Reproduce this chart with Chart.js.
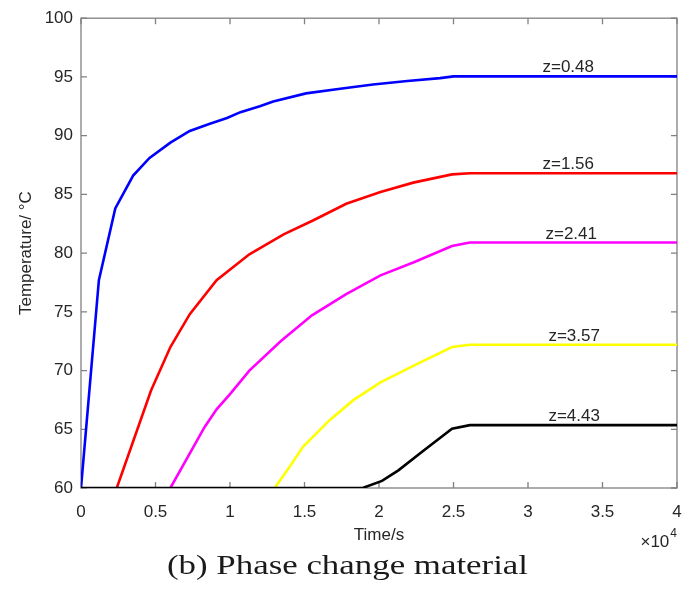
<!DOCTYPE html>
<html>
<head>
<meta charset="utf-8">
<script src="https://cdn.jsdelivr.net/npm/chart.js@4"></script>
<style>
  html, body { margin: 0; padding: 0; background: #fff; }
  #wrap { width: 691px; height: 592px; }
</style>
</head>
<body>
<div id="wrap"><canvas id="tempChart" width="691" height="592"></canvas></div>
<script>
// time in seconds, temperature in degC, one pair of arrays per depth
const timeZ048 = [0, 1200, 2300, 3500, 4600, 6000, 7300, 8600, 9800, 10700, 12000, 12900, 15100, 17400, 19600, 21900, 24100, 25000, 26000, 40000];
const tempZ048 = [60, 77.7, 83.8, 86.6, 88.1, 89.4, 90.4, 91.0, 91.5, 92.0, 92.5, 92.9, 93.6, 94.0, 94.35, 94.65, 94.9, 95.05, 95.05, 95.05];

const timeZ156 = [2400, 4700, 6000, 7300, 9100, 11300, 13600, 15600, 17800, 20100, 22300, 24900, 26100, 40000];
const tempZ156 = [60, 68.3, 72.0, 74.8, 77.7, 79.9, 81.6, 82.8, 84.2, 85.2, 86.0, 86.7, 86.8, 86.8];

const timeZ241 = [6000, 8300, 9100, 10000, 11300, 13400, 15500, 17800, 20100, 22300, 24900, 26100, 40000];
const tempZ241 = [60, 65.2, 66.7, 68.0, 70.0, 72.5, 74.7, 76.5, 78.1, 79.2, 80.6, 80.9, 80.9];

const timeZ357 = [13000, 14000, 14900, 16700, 18300, 20100, 22300, 24900, 26100, 40000];
const tempZ357 = [60, 61.8, 63.5, 65.8, 67.5, 69.0, 70.4, 72.0, 72.2, 72.2];

const timeZ443 = [0, 18900, 20200, 21300, 23000, 24900, 26100, 40000];
const tempZ443 = [60, 60, 60.6, 61.5, 63.2, 65.05, 65.35, 65.35];

const depthLabels = ["z=0.48", "z=1.56", "z=2.41", "z=3.57", "z=4.43"];
const labelTimes = [32700, 32700, 32900, 33100, 33100];
const lineColors = ["#0000ff", "#ff0000", "#ff00ff", "#ffff00", "#000000"];

const xTickStep = 5000;
const yTickStep = 5;

const series = [
  [timeZ048, tempZ048],
  [timeZ156, tempZ156],
  [timeZ241, tempZ241],
  [timeZ357, tempZ357],
  [timeZ443, tempZ443]
];

const axisFont = { family: "'Liberation Sans', Arial, sans-serif", size: 17 };
const inkColor = "#262626";
const boxColor = "#808080";

// frame and inward tick marks on all four sides
const boxPlugin = {
  id: "boxPlugin",
  beforeDatasetsDraw(chart) {
    const { ctx, chartArea: a, scales } = chart;
    const len = 6;
    ctx.save();
    ctx.strokeStyle = boxColor;
    ctx.lineWidth = 1.3;
    ctx.strokeRect(a.left, a.top, a.right - a.left, a.bottom - a.top);
    ctx.beginPath();
    scales.x.ticks.forEach(t => {
      const px = scales.x.getPixelForValue(t.value);
      ctx.moveTo(px, a.bottom); ctx.lineTo(px, a.bottom - len);
      ctx.moveTo(px, a.top); ctx.lineTo(px, a.top + len);
    });
    scales.y.ticks.forEach(t => {
      const py = scales.y.getPixelForValue(t.value);
      ctx.moveTo(a.left, py); ctx.lineTo(a.left + len, py);
      ctx.moveTo(a.right, py); ctx.lineTo(a.right - len, py);
    });
    ctx.stroke();
    ctx.restore();
  },
  afterDraw(chart) {
    const { ctx, chartArea: a, scales } = chart;
    ctx.save();
    // depth labels sit just above each plateau
    ctx.fillStyle = inkColor;
    ctx.font = "17px 'Liberation Sans', Arial, sans-serif";
    ctx.textAlign = "center";
    ctx.textBaseline = "alphabetic";
    depthLabels.forEach((txt, i) => {
      const temps = series[i][1];
      const px = scales.x.getPixelForValue(labelTimes[i]);
      const py = scales.y.getPixelForValue(temps[temps.length - 1]);
      ctx.fillText(txt, px, py - 4);
    });

    // x10^4 multiplier under the right end of the axis
    ctx.textAlign = "left";
    ctx.font = "12px 'Liberation Sans', Arial, sans-serif";
    const w4 = ctx.measureText("4").width;
    ctx.fillText("4", a.right - w4, 537);
    ctx.textAlign = "right";
    ctx.font = "17px 'Liberation Sans', Arial, sans-serif";
    ctx.fillText("\u00d710", a.right - w4 - 1, 547);

    // caption below the chart
    ctx.font = "27px 'Liberation Serif', 'Times New Roman', serif";
    ctx.fillStyle = "#1a1a1a";
    ctx.textAlign = "left";
    const cap = "(b) Phase change material";
    const capW = ctx.measureText(cap).width;
    const targetW = 361;
    ctx.translate(347.5 - targetW / 2, 574);
    ctx.scale(targetW / capW, 1);
    ctx.fillText(cap, 0, 0);
    ctx.restore();
  }
};

// lower order is painted last, so the black curve covers the 60 degC floor
const datasets = series.map((s, i) => ({
  label: depthLabels[i],
  data: s[0].map((t, k) => ({ x: t, y: s[1][k] })),
  borderColor: lineColors[i],
  backgroundColor: lineColors[i],
  borderWidth: 2.6,
  pointRadius: 0,
  tension: 0,
  fill: false,
  order: series.length - 1 - i
}));

new Chart(document.getElementById("tempChart"), {
  type: "line",
  data: { datasets },
  options: {
    responsive: false,
    animation: false,
    layout: { padding: { left: 0, right: 14, top: 17, bottom: 46 } },
    plugins: {
      legend: { display: false },
      tooltip: { enabled: false }
    },
    scales: {
      x: {
        type: "linear",
        min: 0,
        max: 40000,
        grid: { display: false, drawTicks: false },
        border: { display: false },
        ticks: {
          stepSize: xTickStep,
          autoSkip: false,
          maxRotation: 0,
          padding: 14,
          color: inkColor,
          font: axisFont,
          callback: v => String(v / 1e4)
        },
        title: {
          display: true,
          text: "Time/s",
          color: inkColor,
          font: axisFont,
          padding: { top: 0, bottom: 0 }
        },
        afterFit: s => {
          s.height = 58;
          // label padding would otherwise eat into the right margin
          s.paddingLeft = 0;
          s.paddingRight = 0;
        }
      },
      y: {
        min: 60,
        max: 100,
        grid: { display: false, drawTicks: false },
        border: { display: false },
        ticks: {
          stepSize: yTickStep,
          padding: 8,
          color: inkColor,
          font: axisFont
        },
        title: {
          display: true,
          text: "Temperature/ \u00b0C",
          color: inkColor,
          font: axisFont,
          padding: { top: 16, bottom: 0 }
        },
        afterFit: s => { s.width = 81; }
      }
    }
  },
  plugins: [boxPlugin]
});
</script>
</body>
</html>
